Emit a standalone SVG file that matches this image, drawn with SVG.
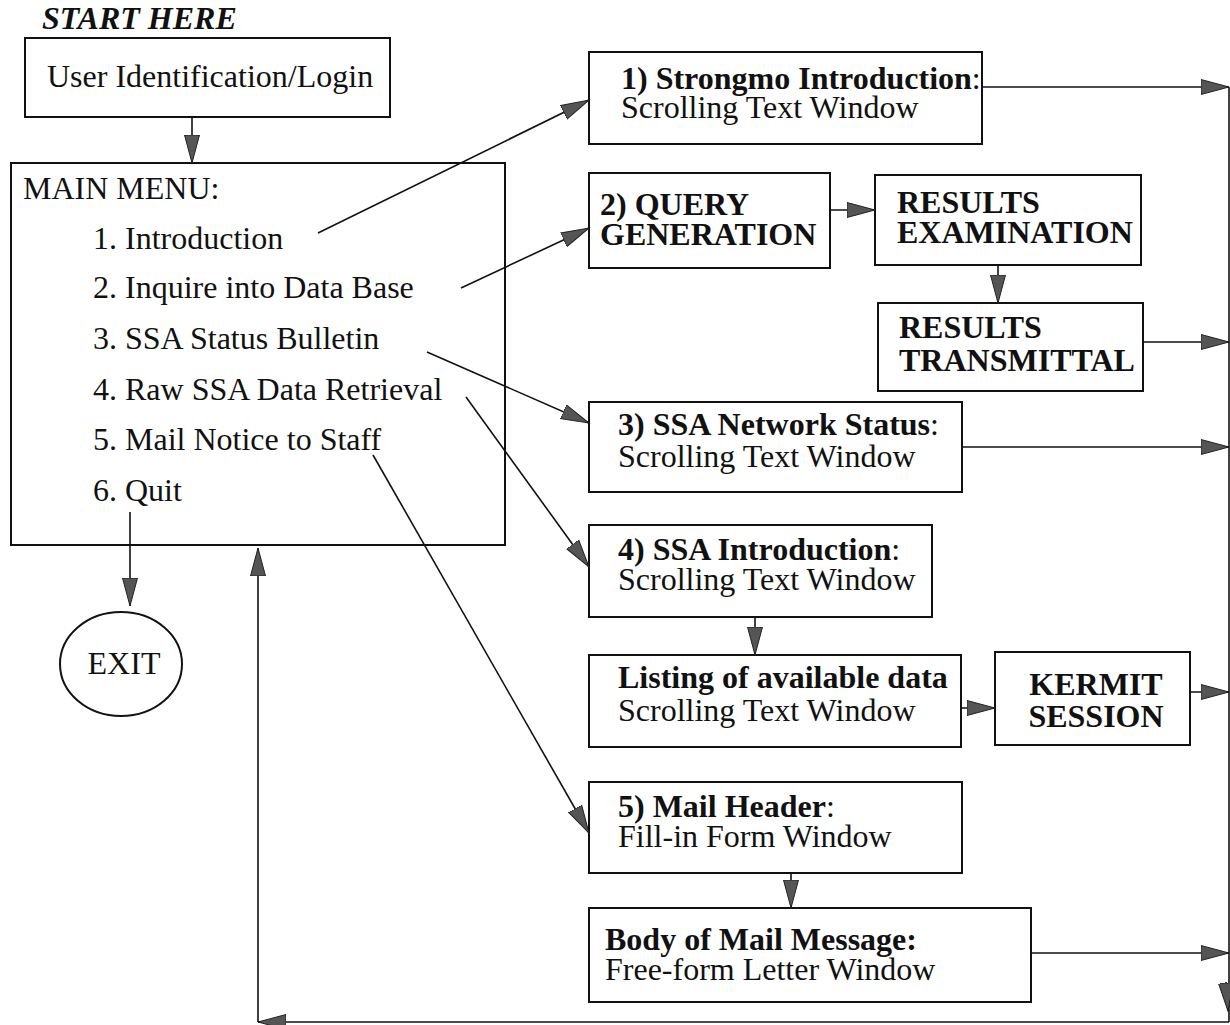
<svg xmlns="http://www.w3.org/2000/svg" width="1230" height="1025" viewBox="0 0 1230 1025">
<style>
.box{fill:none;stroke:#111;stroke-width:2}
.t{font-family:"Liberation Serif","Times New Roman",serif;font-size:32px;fill:#111}
.b{font-weight:bold}
.n{font-weight:normal}
.c{stroke:#111;stroke-width:1.6;fill:none}
</style>
<defs>
<marker id="ah" markerUnits="userSpaceOnUse" markerWidth="30" markerHeight="18" refX="28" refY="9" orient="auto">
<path d="M0,1.5 L28,9 L0,16.5 z" fill="#555" stroke="#222" stroke-width="1"/>
</marker>
</defs>
<rect width="1230" height="1025" fill="#fff"/>
<text class="t b" x="42" y="29" font-style="italic" font-size="29">START HERE</text>

<g id="login"><rect class="box" x="25" y="38" width="365" height="79"/><text class="t" x="47" y="87">User Identification/Login</text></g>
<g id="mainmenu"><rect class="box" x="11" y="163" width="494" height="382"/>
<text class="t" x="23" y="199">MAIN MENU:</text>
<text class="t" x="93" y="249">1. Introduction</text>
<text class="t" x="93" y="298">2. Inquire into Data Base</text>
<text class="t" x="93" y="349">3. SSA Status Bulletin</text>
<text class="t" x="93" y="400">4. Raw SSA Data Retrieval</text>
<text class="t" x="93" y="450">5. Mail Notice to Staff</text>
<text class="t" x="93" y="501">6. Quit</text></g>
<g id="exit"><ellipse cx="121" cy="664" rx="61" ry="52" fill="none" stroke="#111" stroke-width="2"/><text class="t" x="124" y="674" text-anchor="middle">EXIT</text></g>

<g id="n1"><rect class="box" x="589" y="52" width="393" height="92"/><text class="t b" x="621" y="89">1) Strongmo Introduction<tspan class="n">:</tspan></text><text class="t" x="621" y="118">Scrolling Text Window</text></g>
<g id="n2"><rect class="box" x="589" y="173" width="241" height="95"/><text class="t b" x="600" y="215">2) QUERY</text><text class="t b" x="600" y="245">GENERATION</text></g>
<g id="exam"><rect class="box" x="875" y="175" width="266" height="90"/><text class="t b" x="897" y="213">RESULTS</text><text class="t b" x="897" y="243">EXAMINATION</text></g>
<g id="trans"><rect class="box" x="878" y="303" width="265" height="88"/><text class="t b" x="899" y="338">RESULTS</text><text class="t b" x="899" y="371">TRANSMITTAL</text></g>
<g id="n3"><rect class="box" x="589" y="402" width="373" height="90"/><text class="t b" x="618" y="435">3) SSA Network Status<tspan class="n">:</tspan></text><text class="t" x="618" y="467">Scrolling Text Window</text></g>
<g id="n4"><rect class="box" x="589" y="525" width="343" height="92"/><text class="t b" x="618" y="560">4) SSA Introduction<tspan class="n">:</tspan></text><text class="t" x="618" y="590">Scrolling Text Window</text></g>
<g id="listing"><rect class="box" x="589" y="655" width="372" height="92"/><text class="t b" x="618" y="688">Listing of available data</text><text class="t" x="618" y="721">Scrolling Text Window</text></g>
<g id="kermit"><rect class="box" x="995" y="652" width="195" height="93"/><text class="t b" x="1096" y="695" text-anchor="middle">KERMIT</text><text class="t b" x="1096" y="727" text-anchor="middle">SESSION</text></g>
<g id="n5"><rect class="box" x="589" y="782" width="373" height="91"/><text class="t b" x="618" y="817">5) Mail Header<tspan class="n">:</tspan></text><text class="t" x="618" y="847">Fill-in Form Window</text></g>
<g id="body"><rect class="box" x="589" y="908" width="442" height="94"/><text class="t b" x="605" y="950">Body of Mail Message:</text><text class="t" x="605" y="980">Free-form Letter Window</text></g>

<g id="connectors">
<line class="c" x1="192" y1="117" x2="192" y2="163" marker-end="url(#ah)"/>
<line class="c" x1="130" y1="512" x2="130" y2="606" marker-end="url(#ah)"/>
<line class="c" x1="318" y1="233" x2="589" y2="100" marker-end="url(#ah)"/>
<line class="c" x1="461" y1="288" x2="589" y2="228" marker-end="url(#ah)"/>
<line class="c" x1="427" y1="352" x2="589" y2="423" marker-end="url(#ah)"/>
<line class="c" x1="466" y1="397" x2="589" y2="567" marker-end="url(#ah)"/>
<line class="c" x1="373" y1="455" x2="589" y2="833" marker-end="url(#ah)"/>
<line class="c" x1="830" y1="210" x2="875" y2="210" marker-end="url(#ah)"/>
<line class="c" x1="998" y1="265" x2="998" y2="303" marker-end="url(#ah)"/>
<line class="c" x1="755" y1="617" x2="755" y2="655" marker-end="url(#ah)"/>
<line class="c" x1="961" y1="708" x2="995" y2="708" marker-end="url(#ah)"/>
<line class="c" x1="791" y1="873" x2="791" y2="908" marker-end="url(#ah)"/>
<line class="c" x1="982" y1="87" x2="1229" y2="87" marker-end="url(#ah)"/>
<line class="c" x1="1143" y1="342" x2="1229" y2="342" marker-end="url(#ah)"/>
<line class="c" x1="962" y1="447" x2="1229" y2="447" marker-end="url(#ah)"/>
<line class="c" x1="1190" y1="692" x2="1229" y2="692" marker-end="url(#ah)"/>
<line class="c" x1="1031" y1="953" x2="1229" y2="953" marker-end="url(#ah)"/>
<line class="c" x1="1229" y1="87" x2="1229" y2="1022"/>
<line class="c" x1="1226" y1="982" x2="1228" y2="1011" marker-end="url(#ah)"/>
<line class="c" x1="1229" y1="1022" x2="258" y2="1022" marker-end="url(#ah)"/>
<line class="c" x1="258" y1="1022" x2="258" y2="548" marker-end="url(#ah)"/>
</g>
</svg>
